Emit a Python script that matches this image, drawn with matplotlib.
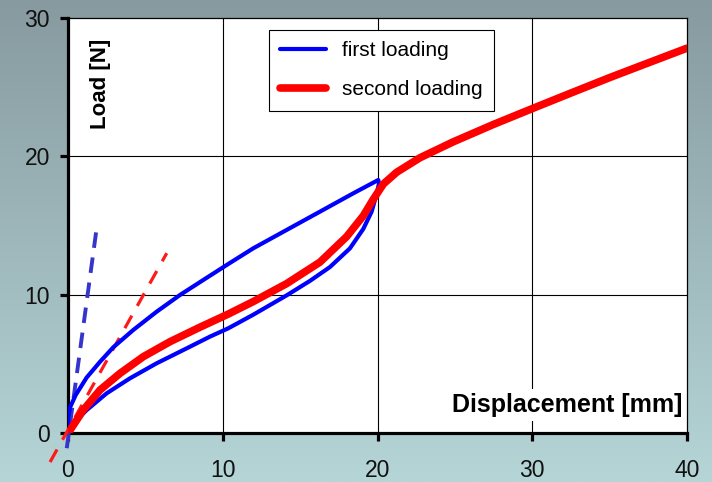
import numpy as np
import matplotlib
matplotlib.use("Agg")
import matplotlib.pyplot as plt
from matplotlib.colors import LinearSegmentedColormap

# ---- data ----
first_x = [0.0, 0.02, 0.15, 0.5, 1.2, 2.07, 2.93, 4.22, 5.73, 7.24, 8.74, 10.36, 11.97, 14.13,
           16.28, 18.44, 20.05,
           20.1, 19.95, 19.62, 19.08, 18.22, 16.93, 15.64, 14.13, 11.97, 10.36, 9.18, 7.67,
           5.73, 4.0, 2.5, 1.21, 0.34, 0.0]
first_y = [0.0, 1.2, 1.9, 2.75, 4.0, 5.15, 6.2, 7.45, 8.77, 9.98, 11.06, 12.22, 13.35, 14.68,
           16.0, 17.33, 18.29,
           18.05, 17.3, 16.0, 14.75, 13.35, 12.0, 11.0, 9.95, 8.55, 7.57, 6.97, 6.12,
           5.04, 3.95, 2.87, 1.66, 0.7, 0.0]

second_x = [0.0, 0.13, 0.99, 2.07, 3.36, 4.87, 6.59, 8.53, 10.36, 11.97, 14.13, 16.28, 18.01,
            19.08, 19.73, 20.38, 21.24, 22.75, 24.9, 27.48, 30.0, 32.44, 35.02, 37.6, 40.0]
second_y = [0.0, 0.2, 1.66, 3.11, 4.31, 5.52, 6.6, 7.65, 8.6, 9.5, 10.8, 12.35, 14.2,
            15.7, 16.9, 18.0, 18.85, 19.9, 21.05, 22.3, 23.45, 24.55, 25.7, 26.8, 27.82]

tan1_x = [-0.08, 1.85]
tan1_y = [-1.1, 14.8]
tan2_x = [-1.16, 6.38]
tan2_y = [-2.1, 13.0]

xticks = [0, 10, 20, 30, 40]
yticks = [0, 10, 20, 30]

fig = plt.figure(figsize=(7.12, 4.82), dpi=100)

# gradient background
bg = fig.add_axes([0, 0, 1, 1], zorder=-10)
cmap = LinearSegmentedColormap.from_list("bg", ["#879a9f", "#b5d5d7"])
grad = np.linspace(0, 1, 256).reshape(-1, 1)
bg.imshow(grad, aspect="auto", cmap=cmap, extent=[0, 1, 0, 1], origin="upper")
bg.set_axis_off()

ax = fig.add_axes([68/712, 1-433/482, (687-68)/712, (433-18)/482])
ax.set_facecolor("white")
ax.set_xlim(0, 40)
ax.set_ylim(0, 30)

for x in [10, 20, 30]:
    ax.axvline(x, color="black", lw=0.8, zorder=1)
for y in [10, 20]:
    ax.axhline(y, color="black", lw=0.8, zorder=1)

ax.plot(tan1_x, tan1_y, color="#3535cc", lw=2.8, dashes=(4, 2.5), clip_on=False, zorder=3)
ax.plot(tan2_x, tan2_y, color="#ff1a1a", lw=2.3, dashes=(4.5, 3.5), clip_on=False, zorder=3)
l1, = ax.plot(first_x, first_y, color="#0000ff", lw=3.0, zorder=4, label="first loading",
              solid_capstyle="round", solid_joinstyle="round")
l2, = ax.plot(second_x, second_y, color="#ff0000", lw=5.5, zorder=5, label="second loading",
              solid_capstyle="round", solid_joinstyle="round")

ax.spines["left"].set_linewidth(2.3)
ax.spines["bottom"].set_linewidth(2.3)
ax.spines["top"].set_linewidth(0.9)
ax.spines["right"].set_linewidth(0.9)
ax.set_xticks(xticks)
ax.set_yticks(yticks)
ax.tick_params(axis="both", direction="out", length=6, width=2.3, color="black",
               labelsize=16.5)
ax.tick_params(axis="x", pad=13)
ax.tick_params(axis="y", pad=7)
for lab in ax.get_xticklabels() + ax.get_yticklabels():
    lab.set_fontfamily("Liberation Sans")
    lab.set_color("#111111")

leg = ax.legend(handles=[l1, l2], loc="upper left",
                bbox_to_anchor=(269/712, 1-30/482), bbox_transform=fig.transFigure,
                borderaxespad=0, frameon=True, fancybox=False, edgecolor="black",
                framealpha=1, prop={"family": "Liberation Sans", "size": 15},
                handlelength=2.2, borderpad=0.55, labelspacing=0.95, handletextpad=0.75)
leg.get_frame().set_linewidth(0.8)
leg.set_zorder(6)

ax.text(0.053, 0.841, "Load [N]", rotation=90, transform=ax.transAxes, ha="center",
        va="center", fontsize=16, fontweight="bold", family="Liberation Sans")
ax.text(0.992, 0.0675, "Displacement [mm]", transform=ax.transAxes, ha="right", va="center",
        fontsize=18, fontweight="bold", family="Liberation Sans",
        bbox=dict(facecolor="white", edgecolor="none", pad=3), zorder=7)

fig.savefig("out.png", dpi=100)
